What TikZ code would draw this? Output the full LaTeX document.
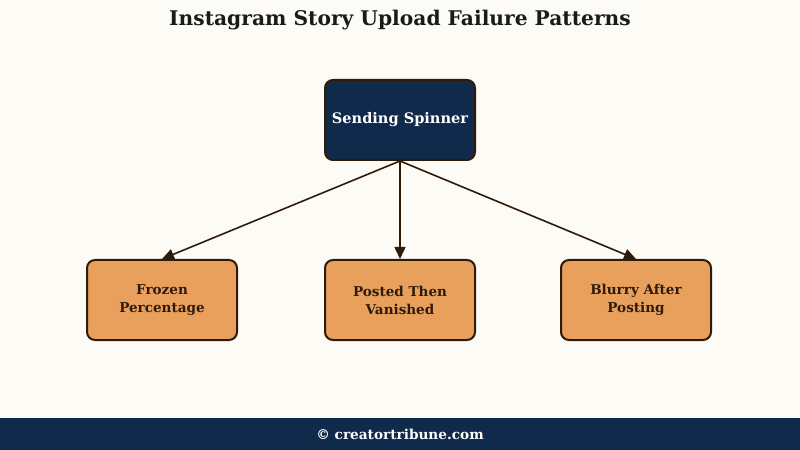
\documentclass[tikz,border=0pt]{standalone}
\usepackage{fontspec}
\setmainfont{DejaVu Serif}
\usetikzlibrary{arrows.meta}
\definecolor{bgcream}{HTML}{FDFBF6}
\definecolor{navy}{HTML}{0F2A4A}
\definecolor{orangefill}{HTML}{E8A05C}
\definecolor{brownline}{HTML}{2E1B0A}
\definecolor{titleink}{HTML}{1A1A1A}
\tikzset{
  topbox/.style={draw=brownline, line width=2bp, fill=navy, rounded corners=8bp,
    minimum width=150bp, minimum height=80bp, text=white, font=\bfseries\fontsize{14.6}{17}\selectfont},
  leafbox/.style={draw=brownline, line width=2bp, fill=orangefill, rounded corners=8bp,
    minimum width=150bp, minimum height=80bp, text=brownline, align=center,
    font=\bfseries\fontsize{13.6}{18}\selectfont},
  link/.style={draw=brownline, line width=1.6bp, -{Triangle[length=12bp,width=11bp]}}
}
\begin{document}
\begin{tikzpicture}[x=1bp,y=-1bp]
\fill[bgcream] (0,0) rectangle (800,450);
\useasboundingbox (0,0) rectangle (800,450);
\fill[navy] (0,418) rectangle (800,450);
\node[font=\bfseries\fontsize{20.3}{24}\selectfont, text=titleink] (title) at (400,20) {Instagram Story Upload Failure Patterns};
\node[font=\bfseries\fontsize{13.7}{16}\selectfont, text=white] (footer) at (400,434) {© creatortribune.com};
\node[topbox] (top) at (400,120) {Sending Spinner};
\node[leafbox] (a) at (162,300) {Frozen\\Percentage};
\node[leafbox] (b) at (400,300) {Posted Then\\Vanished};
\node[leafbox] (c) at (636,300) {Blurry After\\Posting};
\draw[link] (top.south) -- (a.north);
\draw[link] (top.south) -- (b.north);
\draw[link] (top.south) -- (c.north);
\end{tikzpicture}
\end{document}
